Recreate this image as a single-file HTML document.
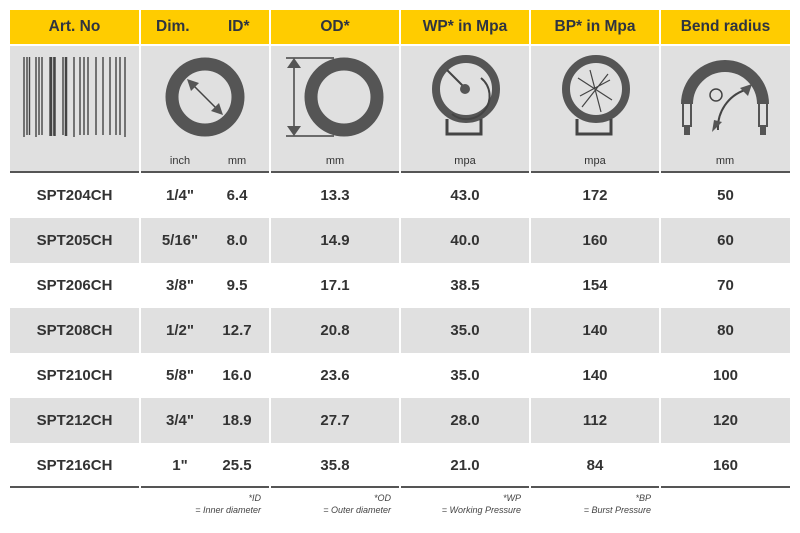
<!DOCTYPE html>
<html><head><style>
body{margin:0;width:800px;height:533px;background:#fff;position:relative;font-family:"Liberation Sans",sans-serif;overflow:hidden}
.a{position:absolute}
.h{top:10px;height:34px;background:#ffcc00;color:#2f3440;font-weight:bold;font-size:15.5px;line-height:34px;text-align:center}
.g{top:46px;height:125px;background:#e0e0e0}
.ln{height:2px;background:#555}
.t{font-weight:bold;font-size:15px;color:#333;text-align:center;line-height:46px;height:45px}
.s{font-size:11px;color:#333;top:155px;text-align:center}
.f{font-style:italic;font-size:9px;color:#444;text-align:right;line-height:12px;top:492px}
.r{background:#e0e0e0;height:45px}
</style></head><body>
<div class="a h" style="left:10px;width:129px">Art. No</div>
<div class="a h" style="left:141px;width:128px;text-align:left"><span style="position:absolute;left:15px">Dim.</span><span style="position:absolute;left:87px">ID*</span></div>
<div class="a h" style="left:271px;width:128px">OD*</div>
<div class="a h" style="left:401px;width:128px">WP* in Mpa</div>
<div class="a h" style="left:531px;width:128px">BP* in Mpa</div>
<div class="a h" style="left:661px;width:129px">Bend radius</div>
<div class="a g" style="left:10px;width:129px"></div>
<div class="a g" style="left:141px;width:128px"></div>
<div class="a g" style="left:271px;width:128px"></div>
<div class="a g" style="left:401px;width:128px"></div>
<div class="a g" style="left:531px;width:128px"></div>
<div class="a g" style="left:661px;width:129px"></div>
<svg class="a" style="left:0;top:0" width="800" height="533">
<g stroke="#444" fill="none">
<path d="M24 57V137M27 57V135M29.5 57V135M36 57V137M39 57V135M42 57V135M50 57V136M54 57V135M63 57V135M66 57V135M74 57V137M80 57V135M84 57V135M88 57V135M96 57V135M103 57V135M110 57V135M116 57V135M120 57V135M125 57V137" stroke-width="1.4"/>
<path d="M51 57V136M54.5 57V136M66 57V136" stroke-width="2.5"/>
<circle cx="205" cy="97" r="33" stroke="#555" stroke-width="13"/>
<path d="M193 85L217 109" stroke-width="1.5"/>
<circle cx="344" cy="97" r="33" stroke="#555" stroke-width="13"/>
<path d="M286 58H334M286 136H334M294 62V132" stroke-width="1.5"/>
<circle cx="466" cy="89" r="30" stroke="#555" stroke-width="8"/>
<path d="M447 70L465 88M481 78A23 23 0 0 1 452 114" stroke-width="2"/>
<path d="M447 119V134H481V119" stroke-width="3"/>
<circle cx="596" cy="89" r="30" stroke="#555" stroke-width="8"/>
<path d="M578 78L612 100M580 96L610 80M590 70L601 112M582 107L608 74" stroke-width="1.2"/>
<path d="M577 119V134H611V119" stroke-width="3"/>
<path d="M687 104A38 38 0 0 1 763 104" stroke="#555" stroke-width="12"/>
<circle cx="716" cy="95" r="6" stroke-width="1.5"/>
<path d="M718 130A40 40 0 0 1 745 90" stroke-width="2"/>
</g>
<g fill="#555"><path d="M187 79L199 83L191 91Z"/><path d="M223 115L211 111L219 103Z"/><path d="M294 58L287 68H301Z"/><path d="M294 136L287 126H301Z"/><circle cx="465" cy="89" r="5"/><path d="M752 84L740 88L748 96Z"/><path d="M712 132L722 122L714 120Z"/>
<rect x="682" y="102" width="10" height="25"/><rect x="758" y="102" width="10" height="25"/><rect x="684" y="127" width="6" height="8"/><rect x="760" y="127" width="6" height="8"/></g>
<g fill="#e0e0e0"><rect x="684" y="104" width="6" height="21"/><rect x="760" y="104" width="6" height="21"/></g>
</svg>
<div class="a s" style="left:160px;width:40px">inch</div>
<div class="a s" style="left:222px;width:30px">mm</div>
<div class="a s" style="left:320px;width:30px">mm</div>
<div class="a s" style="left:450px;width:30px">mpa</div>
<div class="a s" style="left:580px;width:30px">mpa</div>
<div class="a s" style="left:710px;width:30px">mm</div>
<div class="a ln" style="left:10px;top:171px;width:129px"></div>
<div class="a ln" style="left:141px;top:171px;width:128px"></div>
<div class="a ln" style="left:271px;top:171px;width:128px"></div>
<div class="a ln" style="left:401px;top:171px;width:128px"></div>
<div class="a ln" style="left:531px;top:171px;width:128px"></div>
<div class="a ln" style="left:661px;top:171px;width:129px"></div>
<div class="a r" style="left:10px;top:218px;width:129px"></div><div class="a r" style="left:141px;top:218px;width:128px"></div><div class="a r" style="left:271px;top:218px;width:128px"></div><div class="a r" style="left:401px;top:218px;width:128px"></div><div class="a r" style="left:531px;top:218px;width:128px"></div><div class="a r" style="left:661px;top:218px;width:129px"></div>
<div class="a r" style="left:10px;top:308px;width:129px"></div><div class="a r" style="left:141px;top:308px;width:128px"></div><div class="a r" style="left:271px;top:308px;width:128px"></div><div class="a r" style="left:401px;top:308px;width:128px"></div><div class="a r" style="left:531px;top:308px;width:128px"></div><div class="a r" style="left:661px;top:308px;width:129px"></div>
<div class="a r" style="left:10px;top:398px;width:129px"></div><div class="a r" style="left:141px;top:398px;width:128px"></div><div class="a r" style="left:271px;top:398px;width:128px"></div><div class="a r" style="left:401px;top:398px;width:128px"></div><div class="a r" style="left:531px;top:398px;width:128px"></div><div class="a r" style="left:661px;top:398px;width:129px"></div>
<div class="a t" style="left:10px;top:173px;width:129px">SPT204CH</div><div class="a t" style="left:155px;top:173px;width:50px">1/4"</div><div class="a t" style="left:217px;top:173px;width:40px">6.4</div><div class="a t" style="left:271px;top:173px;width:128px">13.3</div><div class="a t" style="left:401px;top:173px;width:128px">43.0</div><div class="a t" style="left:531px;top:173px;width:128px">172</div><div class="a t" style="left:661px;top:173px;width:129px">50</div>
<div class="a t" style="left:10px;top:218px;width:129px">SPT205CH</div><div class="a t" style="left:155px;top:218px;width:50px">5/16"</div><div class="a t" style="left:217px;top:218px;width:40px">8.0</div><div class="a t" style="left:271px;top:218px;width:128px">14.9</div><div class="a t" style="left:401px;top:218px;width:128px">40.0</div><div class="a t" style="left:531px;top:218px;width:128px">160</div><div class="a t" style="left:661px;top:218px;width:129px">60</div>
<div class="a t" style="left:10px;top:263px;width:129px">SPT206CH</div><div class="a t" style="left:155px;top:263px;width:50px">3/8"</div><div class="a t" style="left:217px;top:263px;width:40px">9.5</div><div class="a t" style="left:271px;top:263px;width:128px">17.1</div><div class="a t" style="left:401px;top:263px;width:128px">38.5</div><div class="a t" style="left:531px;top:263px;width:128px">154</div><div class="a t" style="left:661px;top:263px;width:129px">70</div>
<div class="a t" style="left:10px;top:308px;width:129px">SPT208CH</div><div class="a t" style="left:155px;top:308px;width:50px">1/2"</div><div class="a t" style="left:217px;top:308px;width:40px">12.7</div><div class="a t" style="left:271px;top:308px;width:128px">20.8</div><div class="a t" style="left:401px;top:308px;width:128px">35.0</div><div class="a t" style="left:531px;top:308px;width:128px">140</div><div class="a t" style="left:661px;top:308px;width:129px">80</div>
<div class="a t" style="left:10px;top:353px;width:129px">SPT210CH</div><div class="a t" style="left:155px;top:353px;width:50px">5/8"</div><div class="a t" style="left:217px;top:353px;width:40px">16.0</div><div class="a t" style="left:271px;top:353px;width:128px">23.6</div><div class="a t" style="left:401px;top:353px;width:128px">35.0</div><div class="a t" style="left:531px;top:353px;width:128px">140</div><div class="a t" style="left:661px;top:353px;width:129px">100</div>
<div class="a t" style="left:10px;top:398px;width:129px">SPT212CH</div><div class="a t" style="left:155px;top:398px;width:50px">3/4"</div><div class="a t" style="left:217px;top:398px;width:40px">18.9</div><div class="a t" style="left:271px;top:398px;width:128px">27.7</div><div class="a t" style="left:401px;top:398px;width:128px">28.0</div><div class="a t" style="left:531px;top:398px;width:128px">112</div><div class="a t" style="left:661px;top:398px;width:129px">120</div>
<div class="a t" style="left:10px;top:443px;width:129px">SPT216CH</div><div class="a t" style="left:155px;top:443px;width:50px">1"</div><div class="a t" style="left:217px;top:443px;width:40px">25.5</div><div class="a t" style="left:271px;top:443px;width:128px">35.8</div><div class="a t" style="left:401px;top:443px;width:128px">21.0</div><div class="a t" style="left:531px;top:443px;width:128px">84</div><div class="a t" style="left:661px;top:443px;width:129px">160</div>
<div class="a ln" style="left:10px;top:486px;width:129px"></div>
<div class="a ln" style="left:141px;top:486px;width:128px"></div>
<div class="a ln" style="left:271px;top:486px;width:128px"></div>
<div class="a ln" style="left:401px;top:486px;width:128px"></div>
<div class="a ln" style="left:531px;top:486px;width:128px"></div>
<div class="a ln" style="left:661px;top:486px;width:129px"></div>
<div class="a f" style="left:141px;width:120px">*ID<br>= Inner diameter</div>
<div class="a f" style="left:271px;width:120px">*OD<br>= Outer diameter</div>
<div class="a f" style="left:401px;width:120px">*WP<br>= Working Pressure</div>
<div class="a f" style="left:531px;width:120px">*BP<br>= Burst Pressure</div>
</body></html>
